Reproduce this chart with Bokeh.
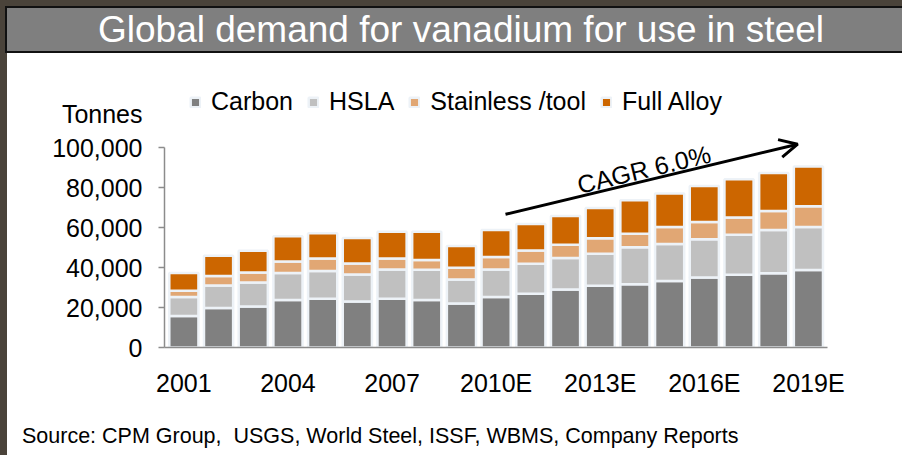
from bokeh.plotting import figure
from bokeh.models import (Range1d, FixedTicker, NumeralTickFormatter, Legend, LegendItem,
                          Label, Arrow, OpenHead, ColumnDataSource, Div,
                          GlobalInlineStyleSheet)
from bokeh.layouts import column
from bokeh.embed import file_html
from bokeh.resources import INLINE

# ---------------- data (tonnes) ----------------
years = ["2001", "2002", "2003", "2004", "2005", "2006", "2007", "2008", "2009",
         "2010E", "2011E", "2012E", "2013E", "2014E", "2015E", "2016E", "2017E",
         "2018E", "2019E"]
carbon = [15700, 19700, 20500, 23700, 24400, 23000, 24400, 23700, 22000, 25200,
          26900, 29000, 30900, 31600, 33200, 35000, 36400, 37100, 38700]
hsla = [9500, 11350, 12050, 13500, 13800, 13550, 14650, 15200, 12050, 13850,
        15000, 15750, 16000, 18500, 18550, 19100, 20000, 21650, 21550]
stainless = [3200, 4650, 5000, 5850, 6350, 5500, 5500, 4850, 5850, 6200,
             6650, 6650, 7700, 6800, 8500, 8650, 8550, 9550, 10350]
full_alloy = [8800, 10200, 10850, 12550, 12550, 12700, 13350, 14150, 10850, 13500,
              13200, 14350, 15150, 16700, 16700, 18050, 19200, 19000, 19900]
series_names = ["Carbon", "HSLA", "Stainless /tool", "Full Alloy"]
y_ticks = [0, 20000, 40000, 60000, 80000, 100000]
x_tick_step = 3
cagr_text = "CAGR 6.0%"
title_text = "Global demand for vanadium for use in steel"
source_text = "Source: CPM Group,  USGS, World Steel, ISSF, WBMS, Company Reports"
y_unit = "Tonnes"

colors = ["#808080", "#c0c0c0", "#e1a774", "#cc6600"]
FONT = "Liberation Sans"
FRAME_DARK = "#4a433a"

# ---------------- title bar ----------------
title_div = Div(text=title_text, width=897, height=47, margin=(6, 0, 0, 5),
                styles={"background-color": "#7f7f7f", "color": "#ffffff",
                        "font-family": FONT, "font-size": "37px",
                        "text-align": "center", "line-height": "43px",
                        "box-sizing": "border-box",
                        "border-top": "2px solid #111111",
                        "border-left": "2px solid #111111",
                        "border-bottom": "2px solid #111111",
                        "padding-left": "13px",
                        "white-space": "nowrap"})

# ---------------- chart ----------------
idx = list(range(len(years)))
src = ColumnDataSource(data=dict(x=idx, carbon=carbon, hsla=hsla,
                                 stainless=stainless, full=full_alloy))

p = figure(width=895, height=371, output_backend="svg", toolbar_location=None,
           x_range=Range1d(-0.558, 18.55), y_range=Range1d(0, 136000),
           min_border_left=157, min_border_right=75, min_border_top=22,
           min_border_bottom=77, margin=(0, 0, 0, 7))
p.outline_line_color = None
p.xgrid.visible = False
p.ygrid.visible = False
p.background_fill_color = "white"
p.border_fill_color = "white"
p.styles = {"background-color": "white"}
p.stylesheets = [GlobalInlineStyleSheet(css="body { background-color: %s; }" % FRAME_DARK)]

rs = p.vbar_stack(["carbon", "hsla", "stainless", "full"], x="x", width=0.84,
                  fill_color=colors, line_color="#edf2f7", line_width=2.5,
                  source=src)

# y axis (unit name shown above the top tick label)
ya = p.yaxis[0]
ya.ticker = FixedTicker(ticks=y_ticks)
ya.formatter = NumeralTickFormatter(format="0,0")
ya.major_label_overrides = {y_ticks[-1]: y_unit + "\n" + f"{y_ticks[-1]:,}" + "\n\u00a0"}
ya.bounds = (0, y_ticks[-1])
ya.axis_line_color = "#8c8c8c"
ya.axis_line_width = 1.5
ya.major_tick_line_color = "#8c8c8c"
ya.major_tick_line_width = 1.5
ya.major_tick_out = 6
ya.major_tick_in = 0
ya.minor_tick_line_color = None
ya.major_label_standoff = 16
ya.major_label_text_font = FONT
ya.major_label_text_font_size = "25px"
ya.major_label_text_color = "black"

# x axis
xa = p.xaxis[0]
tick_idx = idx[::x_tick_step]
xa.ticker = FixedTicker(ticks=tick_idx)
xa.major_label_overrides = {i: years[i] for i in tick_idx}
xa.axis_line_color = "#8c8c8c"
xa.axis_line_width = 1.5
xa.major_tick_line_color = None
xa.minor_tick_line_color = None
xa.major_label_standoff = 15
xa.major_label_text_font = FONT
xa.major_label_text_font_size = "25px"
xa.major_label_text_color = "black"

# legend
legend = Legend(items=[LegendItem(label=n, renderers=[r]) for n, r in zip(series_names, rs)],
                orientation="horizontal", location=(25, 231),
                glyph_width=12, glyph_height=12, label_standoff=10, spacing=14,
                padding=0, margin=0, border_line_color=None, background_fill_alpha=0,
                label_text_font=FONT, label_text_font_size="25px",
                label_text_color="black")
p.add_layout(legend)

# CAGR arrow
p.add_layout(Arrow(end=OpenHead(size=18, line_width=3, line_color="black"),
                   x_start=9.27, y_start=66600, x_end=17.69, y_end=101650,
                   line_width=3, line_color="black"))
p.add_layout(Label(x=13.26, y=89100, text=cagr_text, angle=13.5, angle_units="deg",
                   text_font=FONT, text_font_size="25px", text_align="center",
                   text_baseline="middle", text_color="black"))

# ---------------- source line ----------------
source_div = Div(text=source_text, width=895, height=31, margin=(0, 0, 0, 7),
                 styles={"background-color": "#ffffff", "color": "#000000",
                         "font-family": FONT, "font-size": "21.5px",
                         "line-height": "25px", "padding-left": "15px",
                         "box-sizing": "border-box", "white-space": "pre"})

layout = column(title_div, p, source_div, spacing=0)

open("out.html", "w").write(file_html(layout, INLINE))
